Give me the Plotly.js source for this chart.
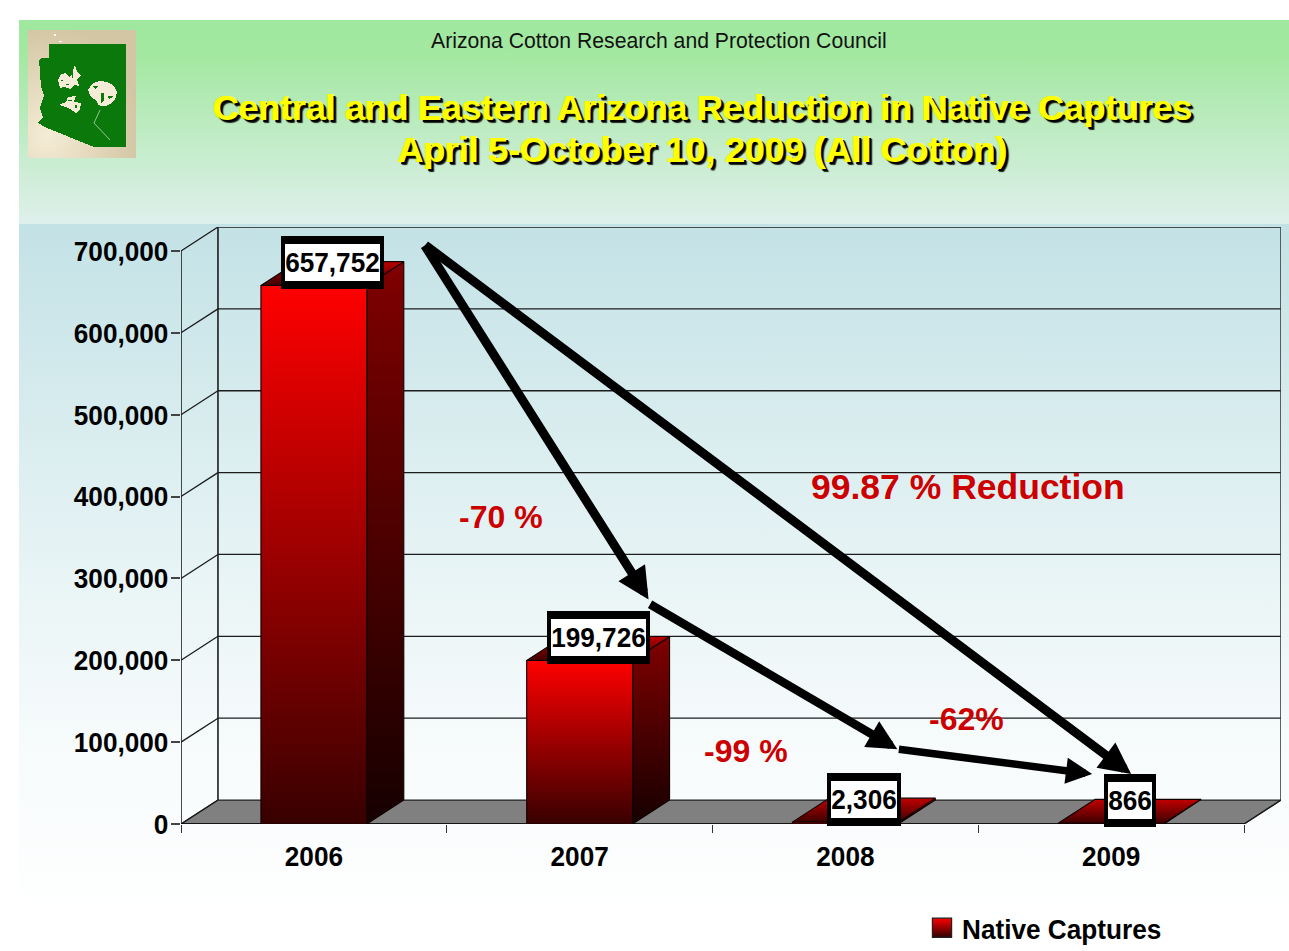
<!DOCTYPE html>
<html>
<head>
<meta charset="utf-8">
<script src="https://cdn.plot.ly/plotly-3.0.1.min.js"></script>
<style>
html,body{margin:0;padding:0;background:#fff;width:1289px;height:951px;overflow:hidden}
#bgTop{position:absolute;left:19px;top:20px;width:1270px;height:204px;background:linear-gradient(#9fe89e,#a4e8a2 18%,#dff0ec)}
#bgLow{position:absolute;left:19px;top:224px;width:1270px;height:700px;background:linear-gradient(#c3e2e6,#e8f4f5 50%,#f7fbfc 75%,#fff)}
#chart{position:absolute;left:0;top:0;width:1289px;height:951px}
</style>
</head>
<body>
<div id="bgTop"></div><div id="bgLow"></div><div id="chart"></div>
<script>
// ---- chart data ----
const categories = ['2006','2007','2008','2009'];
const nativeCaptures = [657752,199726,2306,866];
const dataLabels = ['657,752','199,726','2,306','866'];
const yTicks = [0,100000,200000,300000,400000,500000,600000,700000];
const seriesName = 'Native Captures';

// ---- pseudo-3D geometry, expressed in axis units ----
const pxX = 266, pxY = 574/700000;       // pixels per category / per value
const depthX = 37/pxX, depthY = 24/pxY;  // chart depth
const barW = 106/pxX;
const labelLift = 23/pxY;                // data label sits just above the column's back edge
const nCat = categories.length, yMax = 700000;
const xR = nCat + depthX, yR = yMax + depthY;
const X = p => (p-181)/pxX;              // page pixel -> x axis
const Y = p => (824-p)/pxY;              // page pixel -> y axis
const PX = p => (p-181)/1100, PY = p => (824-p)/597; // page pixel -> paper

const axisInk = '#1c1c1c';
const shapes = [];
const seg = (x0,y0,x1,y1,color,width) => shapes.push({type:'line',layer:'below',xref:'x',yref:'y',x0,y0,x1,y1,line:{color,width}});
// floor
shapes.push({type:'path',layer:'below',xref:'x',yref:'y',
  path:`M0,0L${nCat},0L${xR},${depthY}L${depthX},${depthY}Z`,fillcolor:'#808080',line:{color:'#222',width:1.2}});
// back wall + side wall grid
yTicks.forEach(v=>{
  if(v>0) seg(depthX,v+depthY,xR,v+depthY,axisInk,1.3);
  seg(0,v,depthX,v+depthY,axisInk,1.3);
});
seg(0,0,0,yMax,axisInk,1.6);
seg(depthX,depthY,depthX,yR,axisInk,1.6);
seg(xR,depthY,xR,yR,'#3a3a3a',1.6);
seg(nCat,0,xR,depthY,axisInk,1.3);
seg(0,0,nCat,0,'#000',1.6);

// bars: side, top, front of each column
const traces = [];
const face = (xs,ys,stops) => traces.push({type:'scatter',mode:'lines',x:xs,y:ys,fill:'toself',showlegend:false,hoverinfo:'skip',
  line:{color:'#100000',width:1.1},
  fillgradient:{type:'vertical',colorscale:stops}});
categories.forEach((c,i)=>{
  const v = nativeCaptures[i], x0 = i+0.5-barW/2, x1 = x0+barW;
  face([x1,x1+depthX,x1+depthX,x1,x1],[0,depthY,v+depthY,v,0],[[0,'#160000'],[1,'#800000']]);
  face([x0,x1,x1+depthX,x0+depthX,x0],[v,v,v+depthY,v+depthY,v],[[0,'#3c0000'],[1,'#c00000']]);
  face([x0,x1,x1,x0,x0],[0,0,v,v,0],[[0,'#380000'],[1,'#ff0000']]);
});
// legend entry
traces.push({type:'scatter',mode:'markers',name:seriesName,x:[null],y:[null],showlegend:true,hoverinfo:'skip',
  marker:{symbol:'square',size:18,color:'#ff0000',line:{color:'#222',width:1},gradient:{type:'vertical',color:'#300000'}}});

// annotations
const arial = '"Liberation Sans",Arial,sans-serif';
const boldFont = {family:arial,size:28,color:'#000',weight:700};
const annotations = [];
const labelInnerW = [95,95,66,44];
// black plate behind every white label: its frame is thicker above and below than at the sides
categories.forEach((c,i)=>annotations.push({xref:'x',yref:'y',x:i+0.5+depthX/2,y:nativeCaptures[i]+labelLift,
  text:' ',showarrow:false,xanchor:'center',yanchor:'middle',width:labelInnerW[i]+8,height:53,
  font:{size:10,color:'#000'},bgcolor:'#000',borderwidth:0,borderpad:0}));
categories.forEach((c,i)=>annotations.push({xref:'x',yref:'y',x:i+0.5+depthX/2,y:nativeCaptures[i]+labelLift,
  text:dataLabels[i],showarrow:false,xanchor:'center',yanchor:'middle',width:labelInnerW[i],height:37,
  font:boldFont,bgcolor:'#fff',borderwidth:0,borderpad:0}));
const arrow = (tx,ty,fx,fy,w) => annotations.push({xref:'x',yref:'y',axref:'x',ayref:'y',x:X(tx),y:Y(ty),ax:X(fx),ay:Y(fy),text:'',
  showarrow:true,arrowhead:2,arrowsize:0.7,arrowwidth:w,arrowcolor:'#000',standoff:0,startstandoff:0});
arrow(649,599,424,243,9);
arrow(898,749,649,603,8.5);
arrow(1093,774,898,749,7.5);
arrow(1132,774,424,243,9);
const redNote = (t,cx,cy,size) => annotations.push({xref:'paper',yref:'paper',x:PX(cx),y:PY(cy),text:'<b>'+t+'</b>',showarrow:false,
  xanchor:'center',yanchor:'middle',font:{family:arial,size,color:'#cc0000'}});
redNote('99.87 % Reduction',968,487,35.5);
redNote('-70 %',501,517,32);
redNote('-99 %',746,751,32);
redNote('-62%',966,719,32);
annotations.push({xref:'paper',yref:'paper',x:PX(659),y:PY(40.5),text:'Arizona Cotton Research and Protection Council',showarrow:false,
  xanchor:'center',yanchor:'middle',font:{family:arial,size:21.2,color:'#111'}});
const titleShadow = '2px 2px 0 #000, 3px 3px 1px #222, -1px 0 0 #ffff00';
annotations.push({xref:'paper',yref:'paper',x:PX(703),y:PY(150),text:'<b>April 5-October 10, 2009 (All Cotton)</b>',showarrow:false,
  xanchor:'center',yanchor:'middle',font:{family:arial,size:35.5,color:'#ffff00',shadow:titleShadow}});

// logo
const logoSvg = `<svg xmlns="http://www.w3.org/2000/svg" width="108" height="128" viewBox="28 30 108 128" shape-rendering="crispEdges">
<defs><radialGradient id="g" cx="0.18" cy="0.82" r="0.85"><stop offset="0" stop-color="#f5ecd6"/><stop offset="0.55" stop-color="#e2d7ba"/><stop offset="1" stop-color="#d3c6a4"/></radialGradient></defs>
<rect x="28" y="30" width="108" height="128" fill="url(#g)"/>
<rect x="54" y="34" width="2" height="2" fill="#fff"/><rect x="59" y="41" width="3" height="1" fill="#fff"/>
<polygon fill="#0a780a" points="49,44 126,44 126,147 94,147 47,128 38,123 43,117 40,108 44,95 41,87 40,72 39,60 42,58 49,58"/>
<polygon fill="#f5ecd8" points="58,80 61,74 66,73 69,77 72,74 75,65 77,71 81,76 77,79 79,86 74,85 70,89 64,87 60,88"/>
<path fill="#0a780a" d="M72,72h1v6h-1zM66,84h3v1h-3zM61,80h2v1h-2z"/>
<polygon fill="#f5ecd8" points="59,105 66,102 68,97 76,96 74,102 81,103 80,109 76,113 70,109 66,107"/>
<path fill="#0a780a" d="M68,100h4v1h-4zM75,105h2v3h-2z"/>
<path fill="#f5ecd8" d="M88,90 Q92,81 102,81 Q113,82 117,92 Q116,103 106,106 Q98,108 96,100 Q90,98 88,90Z"/>
<path fill="#0a780a" d="M93,86h5v1l-3,2zM101,93h3v7l-3,3zM108,96h5v1l-4,2z"/>
<path fill="none" stroke="#9fd09f" stroke-width="0.9" shape-rendering="auto" d="M100,110 L94,123 L110,140"/>
</svg>`;

const layout = {
  width:1289,height:951,
  paper_bgcolor:'rgba(0,0,0,0)',plot_bgcolor:'rgba(0,0,0,0)',
  margin:{l:181,r:8,t:227,b:127,pad:0,autoexpand:false},
  showlegend:true,
  legend:{x:PX(922),y:PY(928),xanchor:'left',yanchor:'middle',bgcolor:'rgba(0,0,0,0)',borderwidth:0,
    font:boldFont,itemwidth:30,itemclick:false,itemdoubleclick:false},
  title:{text:'<b>Central and Eastern Arizona Reduction in Native Captures</b>',automargin:false,
    xref:'container',yref:'container',x:703/1289,xanchor:'center',y:1-108/951,yanchor:'middle',
    font:{family:arial,size:35.5,color:'#ffff00',shadow:titleShadow}},
  xaxis:{range:[0,xR],showgrid:false,zeroline:false,showline:false,
    tickmode:'array',tickvals:categories.map((c,i)=>i+0.5),ticktext:categories,ticks:'',ticklen:0,
    ticklabelstandoff:13,
    tickfont:boldFont,
    minor:{tickmode:'array',tickvals:[0,1,2,3,4],ticks:'outside',ticklen:8,tickwidth:1.3,tickcolor:'#333',showgrid:false}},
  yaxis:{range:[0,yR],showgrid:false,zeroline:false,showline:false,
    tickmode:'array',tickvals:yTicks,tickformat:',d',ticks:'outside',ticklen:9,tickwidth:1.5,tickcolor:'#444',
    ticklabelstandoff:-3,
    tickfont:boldFont},
  shapes,annotations,
  images:[{source:'data:image/svg+xml;charset=utf-8,'+encodeURIComponent(logoSvg),xref:'paper',yref:'paper',
    x:PX(28),y:PY(30),sizex:108/1100,sizey:128/597,xanchor:'left',yanchor:'top',sizing:'stretch',layer:'above'}]
};
Plotly.newPlot('chart',traces,layout,{displayModeBar:false,responsive:false}).then(gd=>{
  // the narrow bold face of the original is not installed: condense the real text instead
  const condense = el => {
    const n = el.getComputedTextLength();
    if(n>0){ el.setAttribute('textLength',(n*0.935).toFixed(1)); el.setAttribute('lengthAdjust','spacingAndGlyphs'); }
  };
  gd.querySelectorAll('.xtick text, .ytick text, .legendtext').forEach(condense);
  gd.querySelectorAll('.annotation-text').forEach(t=>{ if(dataLabels.includes(t.textContent)) condense(t); });
  // legend swatch a little larger than the library's cap
  gd.querySelectorAll('.legendpoints path').forEach(p=>{
    p.setAttribute('transform',(p.getAttribute('transform')||'')+' scale(1.2)');
  });
});
</script>
</body>
</html>
